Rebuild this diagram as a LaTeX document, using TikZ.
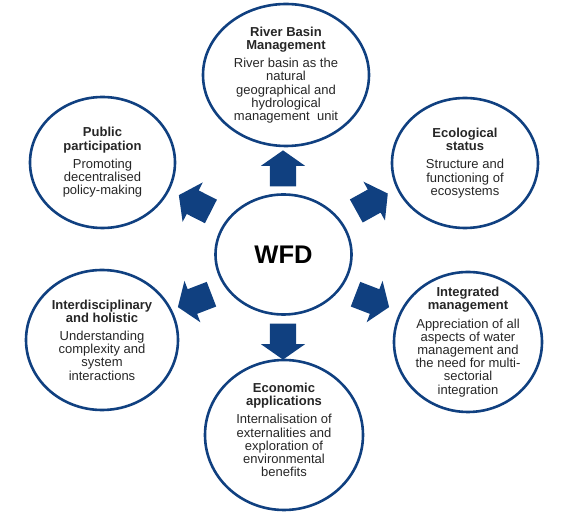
\documentclass[tikz,border=0pt]{standalone}
\usepackage{fontspec}
\setmainfont{Liberation Sans}
\usetikzlibrary{shapes.geometric}
\usetikzlibrary{shapes.arrows}
\definecolor{wfdblue}{RGB}{16,64,128}

\tikzset{
    topic/.style={ellipse, draw=wfdblue, line width=2.6pt, inner sep=0pt},
    topictext/.style={align=center, text=black!85, font=\fontsize{13}{13.2}\selectfont},
    blockarrow/.style={single arrow, fill=wfdblue, inner xsep=0pt, inner ysep=13pt,
        minimum height=36pt, single arrow head extend=9pt, single arrow head indent=0pt,
        single arrow tip angle=110}
}

\begin{document}
\begin{tikzpicture}[x=1pt, y=1pt]
        \useasboundingbox (0, 0) rectangle (571, 514);

        % Centre
        \node[topic, minimum width=136pt, minimum height=120pt] (wfd) at (283.5, 259.5) {};
        \node[font=\fontsize{25.5}{25.5}\selectfont\bfseries] (wfdlabel) at (wfd) {WFD};

        % Outer topics
        \node[topic, minimum width=166pt, minimum height=142pt] (basin) at (286, 439) {};
        \node[topic, minimum width=146pt, minimum height=130pt] (ecol) at (465, 351) {};
        \node[topic, minimum width=148pt, minimum height=140pt] (integ) at (468, 172) {};
        \node[topic, minimum width=158pt, minimum height=150pt] (econ) at (284, 79) {};
        \node[topic, minimum width=152pt, minimum height=140pt] (inter) at (102, 174) {};
        \node[topic, minimum width=145pt, minimum height=131pt] (public) at (102.5, 351.5) {};

        % Texts
        \node[topictext] (basintext) at (basin) {\textbf{River Basin}\\\textbf{Management}\\[5pt]
            River basin as the\\natural\\geographical and\\hydrological\\management\ \ unit};
        \node[topictext] (ecoltext) at (ecol) {\textbf{Ecological}\\\textbf{status}\\[5pt]
            Structure and\\functioning of\\ecosystems};
        \node[topictext] (integtext) at (integ) {\textbf{Integrated}\\\textbf{management}\\[5pt]
            Appreciation of all\\aspects of water\\management and\\the need for multi-\\sectorial\\integration};
        \node[topictext] (econtext) at (284, 84) {\textbf{Economic}\\\textbf{applications}\\[5pt]
            Internalisation of\\externalities and\\exploration of\\environmental\\benefits};
        \node[topictext] (intertext) at (inter) {\textbf{Interdisciplinary}\\\textbf{and holistic}\\[5pt]
            Understanding\\complexity and\\system\\interactions};
        \node[topictext] (publictext) at (public) {\textbf{Public}\\\textbf{participation}\\[5pt]
            Promoting\\decentralised\\policy-making};

        % Arrows out of the centre
        \node[blockarrow, rotate=90] (aup) at (283, 341) {};
        \node[blockarrow, rotate=-90] (adown) at (283, 177) {};
        \node[blockarrow, rotate=29] (aupright) at (368, 309.5) {};
        \node[blockarrow, rotate=-21] (alowright) at (368, 215) {};
        \node[blockarrow, rotate=153] (aupleft) at (199, 308.6) {};
        \node[blockarrow, rotate=201] (alowleft) at (199, 215) {};
\end{tikzpicture}
\end{document}
